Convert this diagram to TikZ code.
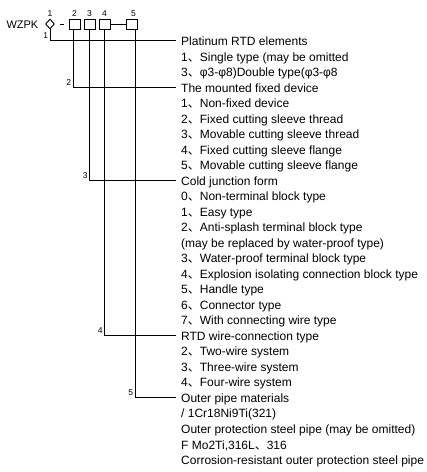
\documentclass[tikz,border=0pt]{standalone}
\usepackage{fontspec}
\setmainfont{Liberation Sans}
\newfontfamily\cjk{Noto Sans CJK SC}
\newcommand{\dn}{{\cjk 、}}
\usetikzlibrary{shapes.geometric}
\tikzset{myLine/.style={line width=0.9pt,color=black}}
\tikzset{myBox/.style={draw,line width=0.9pt,minimum width=11pt,minimum height=10pt,inner sep=0pt}}
\tikzset{myDiamond/.style={draw,shape=diamond,line width=0.9pt,minimum width=9pt,minimum height=10pt,inner sep=0pt}}
\tikzset{myText/.style={anchor=base west,inner xsep=5pt,inner ysep=0pt,text height=10pt,text depth=0pt,font=\fontsize{12pt}{14pt}\selectfont}}
\tikzset{myNum/.style={inner sep=1.5pt,font=\fontsize{8.5pt}{10pt}\selectfont}}

\begin{document}
\begin{tikzpicture}[x=1pt,y=-1pt]
	\useasboundingbox (0,0) rectangle (427,472);
	% model code
	\node[anchor=east,inner sep=0pt,font=\fontsize{11pt}{13pt}\selectfont] (code) at (38.5,24.5) {WZPK};
	\node[myDiamond] (d1) at (50,24) {};
	\node[myBox] (b2) at (74.5,24) {};
	\node[myBox] (b3) at (89.5,24) {};
	\node[myBox] (b4) at (104.5,24) {};
	\node[myBox] (b5) at (131.5,24) {};
	\draw[myLine] ([xshift=5.5pt]d1.east) -- ++(3.5,0);
	\draw[myLine] (b4) -- (b5);
	\node[myNum,anchor=south] at (d1.north) {1};
	\node[myNum,anchor=south] at (b2.north) {2};
	\node[myNum,anchor=south] at (b3.north) {3};
	\node[myNum,anchor=south] at (b4.north) {4};
	\node[myNum,anchor=south] at ([xshift=2pt]b5.north) {5};

	% explanation lines
	\foreach \txt [count=\i] in {
		{Platinum RTD elements},
		{1\dn Single type (may be omitted},
		{3\dn φ3-φ8)Double type(φ3-φ8},
		{The mounted fixed device},
		{1\dn Non-fixed device},
		{2\dn Fixed cutting sleeve thread},
		{3\dn Movable cutting sleeve thread},
		{4\dn Fixed cutting sleeve flange},
		{5\dn Movable cutting sleeve flange},
		{Cold junction form},
		{0\dn Non-terminal block type},
		{1\dn Easy type},
		{2\dn Anti-splash terminal block type},
		{(may be replaced by water-proof type)},
		{3\dn Water-proof terminal block type},
		{4\dn Explosion isolating connection block type},
		{5\dn Handle type},
		{6\dn Connector type},
		{7\dn With connecting wire type},
		{RTD wire-connection type},
		{2\dn Two-wire system},
		{3\dn Three-wire system},
		{4\dn Four-wire system},
		{Outer pipe materials},
		{/ 1Cr18Ni9Ti(321)},
		{Outer protection steel pipe (may be omitted)},
		{F Mo2Ti,316L\dn 316},
		{Corrosion-resistant outer protection steel pipe}}
		\node[myText] (l\i) at (176,{45.5+(\i-1)*15.52}) {\txt};

	% leaders
	\draw[myLine] (d1.south) |- node[myNum,anchor=south east,pos=0.5]{1} (l1.west);
	\draw[myLine] ([xshift=-1.5pt]b2.south) |- node[myNum,anchor=south east,pos=0.5]{2} (l4.west);
	\draw[myLine] (b3.south) |- node[myNum,anchor=south east,pos=0.5]{3} (l10.west);
	\draw[myLine] (b4.south) |- node[myNum,anchor=south east,pos=0.5]{4} (l20.west);
	\draw[myLine] ([xshift=3.5pt]b5.south) |- node[myNum,anchor=south east,pos=0.5]{5} (l24.west);
\end{tikzpicture}
\end{document}
